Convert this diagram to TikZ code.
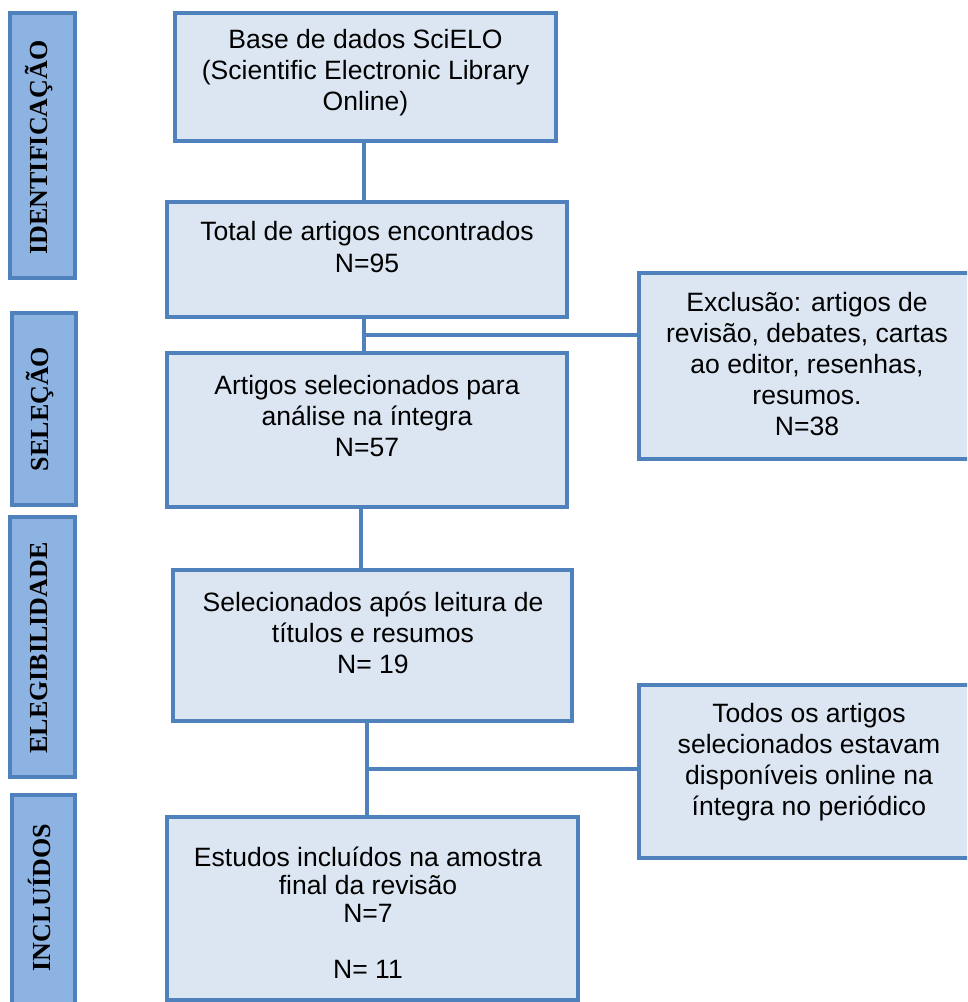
\documentclass[tikz,border=0pt]{standalone}
\usepackage{fontspec}
\setmainfont{Liberation Sans}
\newfontfamily\stagefont{Liberation Serif}
\usetikzlibrary{calc}

\definecolor{boxborder}{HTML}{4F81BD}
\definecolor{boxfill}{HTML}{DCE6F2}
\definecolor{stagefill}{HTML}{8DB3E2}

\tikzset{
  mainbox/.style={draw=boxborder, line width=2.5pt, fill=boxfill, inner sep=0pt},
  stagebox/.style={draw=boxborder, line width=2.5pt, fill=stagefill, inner sep=0pt},
  boxtext/.style={align=center, inner sep=0pt, font=\fontsize{19.9pt}{23.3pt}\selectfont},
  stagetext/.style={rotate=90, inner sep=0pt, font=\stagefont\bfseries\fontsize{19.5pt}{22pt}\selectfont},
  link/.style={draw=boxborder, line width=2.6pt}
}

\begin{document}
\begin{tikzpicture}[x=0.75pt,y=-0.75pt]
    \useasboundingbox (0,0) rectangle (967,1002);
    \clip (0,0) rectangle (967,1002);

    % stages on the left
    \node[stagebox, minimum width=48.75pt, minimum height=198.75pt] (idbox) at (42.5,145.5) {};
    \node[stagebox, minimum width=48pt, minimum height=144pt] (selbox) at (44,409) {};
    \node[stagebox, minimum width=48.75pt, minimum height=195pt] (elebox) at (42.5,647) {};
    \node[stagebox, minimum width=47.25pt, minimum height=161.25pt] (incbox) at (43.5,902.5) {};
    \node[stagetext] (idtxt) at (39,147.5) {IDENTIFICAÇÃO};
    \node[stagetext] (seltxt) at (40,409) {SELEÇÃO};
    \node[stagetext] (eletxt) at (39,648) {ELEGIBILIDADE};
    \node[stagetext] (inctxt) at (39,897.5) {INCLUÍDOS};

    % main flow
    \node[mainbox, minimum width=285.75pt, minimum height=96pt] (base) at (365.5,77) {};
    \node[mainbox, minimum width=300pt, minimum height=86.25pt] (total) at (367,259.5) {};
    \node[mainbox, minimum width=300pt, minimum height=115.5pt] (sel) at (367,430) {};
    \node[mainbox, minimum width=299.25pt, minimum height=113.25pt] (eleg) at (372.5,645.5) {};
    \node[mainbox, minimum width=308.25pt, minimum height=137.25pt] (incl) at (372.5,908.5) {};

    % side boxes
    \node[mainbox, minimum width=252pt, minimum height=139.5pt] (excl) at (807,366) {};
    \node[mainbox, minimum width=252pt, minimum height=129.75pt] (avail) at (807,771.5) {};

    % texts
    \node[boxtext] (basetxt) at (365.5,73) {Base de dados SciELO\\(Scientific Electronic Library\\Online)};
    \node[boxtext] (totaltxt) at (367,247) {Total de artigos encontrados\\N=95};
    \node[boxtext] (seltxt2) at (367,416) {Artigos selecionados para\\análise na íntegra\\N=57};
    \node[boxtext] (elegtxt) at (373,633) {Selecionados após leitura de\\títulos e resumos\\N= 19};
    \node[boxtext, font=\fontsize{19.9pt}{21pt}\selectfont] (incltxt) at (368,913) {Estudos incluídos na amostra\\final da revisão\\N=7\\[21pt]N= 11};
    \node[boxtext] (excltxt) at (807,364) {Exclusão: artigos de\\revisão, debates, cartas\\ao editor, resenhas,\\resumos.\\N=38};
    \node[boxtext] (availtxt) at (809,762) {Todos os artigos\\selecionados estavam\\disponíveis online na\\íntegra no periódico};

    % connectors
    \coordinate (j1) at ($(total.south)!0.5!(sel.north)$);
    \coordinate (j2) at ($([xshift=-4.1pt]eleg.south)!0.5!([xshift=-4.1pt]eleg.south |- incl.north)$);
    \draw[link] ([xshift=-1pt]base.south) -- ([xshift=-1pt]base.south |- total.north);
    \draw[link] ([xshift=-2.2pt]total.south) -- ([xshift=-2.2pt]total.south |- sel.north);
    \draw[link] ([xshift=-2.2pt]j1) -- (j1 -| excl.west);
    \draw[link] ([xshift=-4.5pt]sel.south) -- ([xshift=-4.5pt]sel.south |- eleg.north);
    \draw[link] ([xshift=-4.1pt]eleg.south) -- ([xshift=-4.1pt]eleg.south |- incl.north);
    \draw[link] (j2) -- (j2 -| avail.west);
\end{tikzpicture}
\end{document}
